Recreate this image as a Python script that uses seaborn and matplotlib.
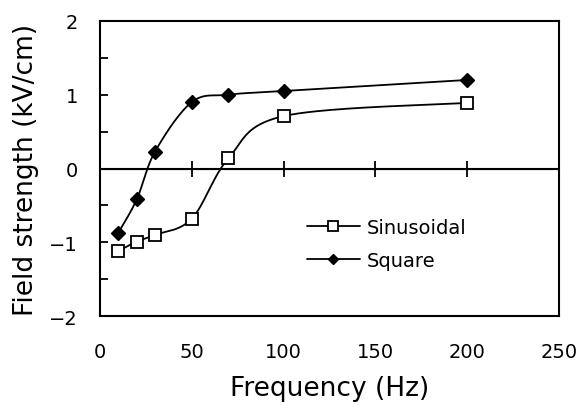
import numpy as np
import pandas as pd
import matplotlib
matplotlib.use("Agg")
import matplotlib.pyplot as plt
import seaborn as sns
from matplotlib.ticker import MultipleLocator, FixedLocator, NullFormatter
from matplotlib.lines import Line2D

freq = [10, 20, 30, 50, 70, 100, 200]
sinusoidal = [-1.12, -0.99, -0.90, -0.68, 0.14, 0.71, 0.89]
square = [-0.87, -0.42, 0.23, 0.90, 1.00, 1.05, 1.20]
series_names = ["Sinusoidal", "Square"]
x_ticks = [0, 50, 100, 150, 200, 250]
y_ticks = [-2, -1, 0, 1, 2]

sns.set_style("white")
plt.rcParams['font.family'] = ['DejaVu Sans']
plt.rcParams.update({"text.color": "black", "axes.labelcolor": "black",
                     "xtick.color": "black", "ytick.color": "black"})


def smooth(xs, ys, n=40):
    P = np.column_stack([xs, ys]).astype(float)
    out = []
    m = len(P)
    for i in range(m - 1):
        p0 = P[i - 1] if i > 0 else P[i]
        p1 = P[i]
        p2 = P[i + 1]
        p3 = P[i + 2] if i + 2 < m else P[i + 1]
        c1 = p1 + (p2 - p0) / 6.0
        c2 = p2 - (p3 - p1) / 6.0
        t = np.linspace(0, 1, n)[:, None]
        seg = ((1 - t) ** 3) * p1 + 3 * ((1 - t) ** 2) * t * c1 + 3 * (1 - t) * t ** 2 * c2 + t ** 3 * p2
        out.append(seg if i == 0 else seg[1:])
    S = np.vstack(out)
    return S[:, 0], S[:, 1]


fig = plt.figure(figsize=(5.78, 4.06), dpi=100)
ax = fig.add_axes([0.173, 0.219, 0.794, 0.727])

styles = {
    "Sinusoidal": dict(marker="s", mfc="white", ms=8, mew=1.3),
    "Square": dict(marker="D", mfc="black", ms=7, mew=1.0),
}
for name, vals in zip(series_names, [sinusoidal, square]):
    sx, sy = smooth(freq, vals)
    sns.lineplot(x=sx, y=sy, ax=ax, color="black", lw=1.3, sort=False, estimator=None)
    df = pd.DataFrame({"f": freq, "v": vals})
    st = styles[name]
    ax.plot(df["f"], df["v"], linestyle="none", marker=st["marker"], mfc=st["mfc"],
            mec="black", ms=st["ms"], mew=st["mew"], zorder=5)

handles = [
    Line2D([], [], color="black", lw=1.3, marker="s", mfc="white", mec="black", ms=7, mew=1.3),
    Line2D([], [], color="black", lw=1.3, marker="D", mfc="black", mec="black", ms=5),
]
ax.legend(handles, series_names, loc="center left", bbox_to_anchor=(0.45, 0.244),
          frameon=False, fontsize=14, handlelength=2.75, handletextpad=0.35,
          labelspacing=0.72, borderaxespad=0, borderpad=0)

ax.set_xlim(0, 250)
ax.set_ylim(-2, 2)
ax.axhline(0, color="black", lw=1.5, zorder=1)

ax.xaxis.set_major_locator(FixedLocator(x_ticks))
ax.set_xticklabels([str(v) for v in x_ticks])
ax.tick_params(axis="x", length=0, pad=19, labelsize=14)
ax.yaxis.set_major_locator(FixedLocator(y_ticks))
ax.set_yticklabels([str(v) if v >= 0 else "\u2212" + str(-v) for v in y_ticks])
ax.yaxis.set_minor_locator(MultipleLocator(0.5))
ax.tick_params(axis="y", which="both", direction="in", length=6, width=1.3, pad=16, labelsize=14, left=True)

sec = ax.secondary_xaxis(0.5)
sec.set_xticks(x_ticks)
sec.xaxis.set_major_formatter(NullFormatter())
sec.tick_params(direction="inout", length=12, width=1.3, color="black")
sec.spines["bottom"].set_visible(False)

for s in ax.spines.values():
    s.set_color("black")
    s.set_linewidth(1.5)

ax.set_xlabel("Frequency (Hz)", fontsize=19, labelpad=10)
ax.set_ylabel("Field strength (kV/cm)", fontsize=19, labelpad=7)

fig.savefig("out.png", dpi=100)
